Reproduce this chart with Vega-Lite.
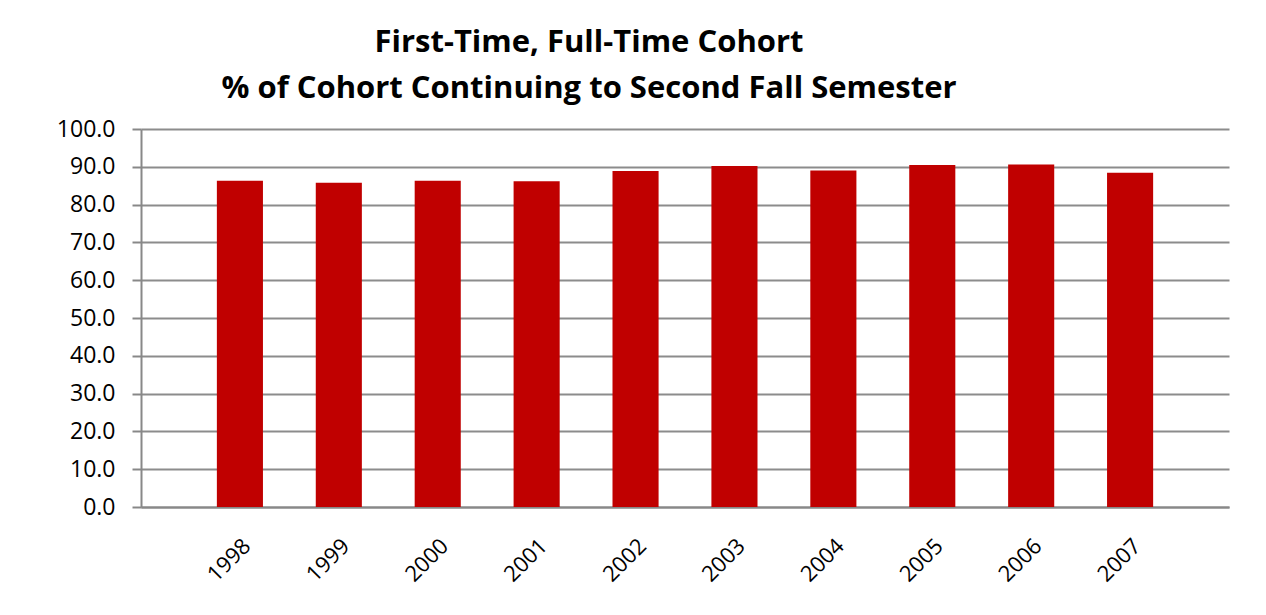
{
  "$schema": "https://vega.github.io/schema/vega-lite/v6.json",
  "width": 1088,
  "height": 378,
  "autosize": {"type": "none"},
  "padding": {"left": 141, "top": 129, "right": 37, "bottom": 108},
  "background": "white",
  "title": {
    "text": ["First-Time, Full-Time Cohort", "% of Cohort Continuing to Second Fall Semester"],
    "font": "Open Sans",
    "fontSize": 31,
    "fontWeight": "bold",
    "color": "black",
    "anchor": "middle",
    "dx": -96,
    "lineHeight": 46,
    "offset": 13
  },
  "data": {
    "values": [
      {"year": "1998", "pct": 86.3},
      {"year": "1999", "pct": 85.8},
      {"year": "2000", "pct": 86.3},
      {"year": "2001", "pct": 86.2},
      {"year": "2002", "pct": 88.9},
      {"year": "2003", "pct": 90.2},
      {"year": "2004", "pct": 89.0},
      {"year": "2005", "pct": 90.5},
      {"year": "2006", "pct": 90.6},
      {"year": "2007", "pct": 88.4}
    ]
  },
  "mark": {"type": "bar", "color": "#C00000"},
  "encoding": {
    "x": {
      "field": "year",
      "type": "ordinal",
      "scale": {"paddingInner": 0.534, "paddingOuter": 0.767},
      "axis": {
        "title": null,
        "labelAngle": -45,
        "labelFont": "Open Sans",
        "labelFontSize": 22,
        "labelColor": "black",
        "labelPadding": 28,
        "ticks": false,
        "domainColor": "#888888",
        "domainWidth": 2
      }
    },
    "y": {
      "field": "pct",
      "type": "quantitative",
      "scale": {"domain": [0, 100], "nice": false},
      "axis": {
        "title": null,
        "values": [0, 10, 20, 30, 40, 50, 60, 70, 80, 90, 100],
        "format": ".1f",
        "labelFont": "Open Sans",
        "labelFontSize": 23,
        "labelColor": "black",
        "labelPadding": 17,
        "tickSize": 9,
        "tickColor": "#888888",
        "tickWidth": 2,
        "domainColor": "#888888",
        "domainWidth": 2,
        "grid": true,
        "gridColor": "#8c8c8c",
        "gridWidth": 2
      }
    }
  },
  "config": {"view": {"stroke": null}}
}
